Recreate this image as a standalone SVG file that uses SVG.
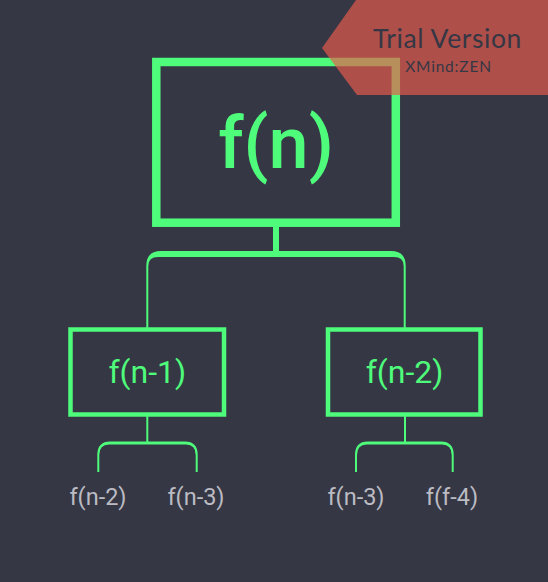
<svg xmlns="http://www.w3.org/2000/svg" width="548" height="582" viewBox="0 0 548 582">
<style>
.box{fill:none;stroke:#4efb7b}
.conn{fill:#4efb7b;stroke:none}
.t{font-family:Roboto,"Liberation Sans",sans-serif;fill:#4efb7b;text-anchor:middle}
.leaf{font-family:Roboto,"Liberation Sans",sans-serif;fill:#bbbbc3;font-size:23.5px;text-anchor:middle}
.wm{font-family:Lato,"Open Sans",sans-serif;fill:#353744;text-anchor:middle}
</style>
<rect width="548" height="582" fill="#353744"/>
<g id="connectors">
<rect class="conn" x="273" y="224" width="6" height="30"/>
<path class="conn" d="M146.3,330 V266 Q146.3,251 161,251 H391 Q405.7,251 405.7,266 V330 H403.7 V266 Q403.7,257 394,257 H158 Q148.3,257 148.3,266 V330 Z"/>
<rect class="conn" x="146.3" y="414" width="2" height="29"/>
<path class="conn" d="M97.3,472 V455 Q97.3,441.5 110,441.5 H185 Q197.7,441.5 197.7,455 V472 H195.7 V455 Q195.7,444.5 186,444.5 H109 Q99.3,444.5 99.3,455 V472 Z"/>
<rect class="conn" x="404" y="414" width="2" height="29"/>
<path class="conn" d="M355,472 V455 Q355,441.5 367.7,441.5 H441 Q453.7,441.5 453.7,455 V472 H451.7 V455 Q451.7,444.5 442,444.5 H366.7 Q357,444.5 357,455 V472 Z"/>
</g>
<g id="root">
<rect class="box" x="156.3" y="62" width="239.5" height="160.7" stroke-width="8.5"/>
<text class="t" x="276" y="168" font-size="72" font-weight="500">f(n)</text>
</g>
<g id="n1">
<rect class="box" x="70.5" y="329.5" width="153.5" height="85" stroke-width="4.5"/>
<text class="t" x="147.3" y="383" font-size="32">f(n-1)</text>
</g>
<g id="n2">
<rect class="box" x="328" y="329.5" width="152.5" height="85" stroke-width="4.5"/>
<text class="t" x="404.5" y="383" font-size="32">f(n-2)</text>
</g>
<g id="leaf1"><text class="leaf" x="98" y="505">f(n-2)</text></g>
<g id="leaf2"><text class="leaf" x="196" y="505">f(n-3)</text></g>
<g id="leaf3"><text class="leaf" x="356" y="505">f(n-3)</text></g>
<g id="leaf4"><text class="leaf" x="452" y="505">f(f-4)</text></g>
<g id="watermark">
<polygon points="356,0 548,0 548,95 357,95 322,48" fill="#e85c4c" fill-opacity="0.68"/>
<text class="wm" x="447.5" y="48" font-size="26.5" letter-spacing="0.6">Trial Version</text>
<text class="wm" x="448.5" y="72" font-size="15.5" letter-spacing="0.8">XMind:ZEN</text>
</g>
</svg>
